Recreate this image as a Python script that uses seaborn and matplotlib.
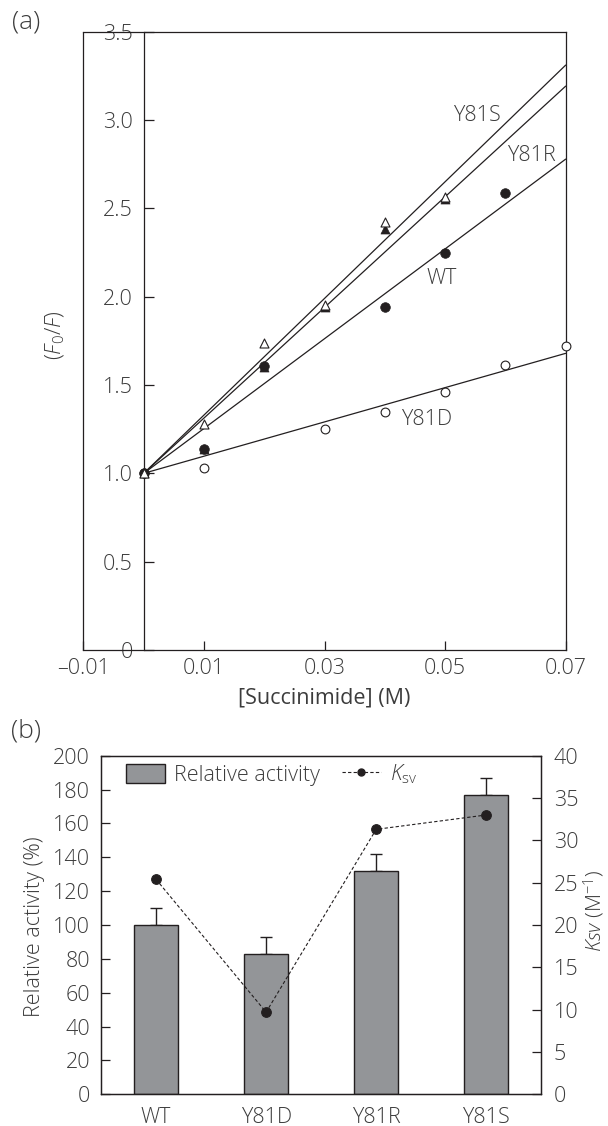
import numpy as np
import matplotlib.pyplot as plt
import seaborn as sns
from matplotlib.patches import Patch
from matplotlib.lines import Line2D

# ============================================================
# data
# ============================================================

# (a) Stern-Volmer plot
conc_wt = [0, 0.01, 0.02, 0.04, 0.05, 0.06]
f0f_wt = [1.0, 1.14, 1.61, 1.94, 2.245, 2.585]

conc_y81d = [0, 0.01, 0.03, 0.04, 0.05, 0.06, 0.07]
f0f_y81d = [1.0, 1.03, 1.25, 1.347, 1.46, 1.613, 1.722]

conc_y81r = [0, 0.01, 0.02, 0.03, 0.04, 0.05]
f0f_y81r = [1.0, 1.14, 1.60, 1.94, 2.38, 2.55]

conc_y81s = [0, 0.01, 0.02, 0.03, 0.04, 0.05]
f0f_y81s = [1.0, 1.28, 1.736, 1.955, 2.424, 2.565]

# (b) activity / Ksv
mutants = ["WT", "Y81D", "Y81R", "Y81S"]
rel_activity = [100, 83, 132, 177]
rel_activity_err = [10, 10, 10, 10]
ksv = [25.4, 9.7, 31.3, 33.0]

x_ticklabels_a = ["\u20130.01", "0.01", "0.03", "0.05", "0.07"]
y_ticklabels_a = ["0", "0.5", "1.0", "1.5", "2.0", "2.5", "3.0", "3.5"]

# ============================================================
# style
# ============================================================

sns.set_style("ticks")
plt.rcParams["font.family"] = ["Open Sans", "DejaVu Sans"]
plt.rcParams["font.weight"] = "light"
plt.rcParams["mathtext.fontset"] = "custom"
plt.rcParams["mathtext.rm"] = "Open Sans:light"
plt.rcParams["mathtext.it"] = "Open Sans:italic:light"
plt.rcParams["mathtext.bf"] = "Open Sans:bold"

INK = "#231f20"
TXT = "#3c3c3c"
BAR = "#939598"
FS = 15.5

fig = plt.figure(figsize=(6.08, 11.26), dpi=100)

# ============================================================
# (a)
# ============================================================

ax1 = fig.add_axes([0.1373, 0.4227, 0.7931, 0.5493])

# fitted lines  F0/F = 1 + Ksv [Q]
x_fit = np.array([0, 0.07])
for k in ksv:
    sns.lineplot(x=x_fit, y=1 + k * x_fit, ax=ax1, color=INK, lw=0.9)

sns.scatterplot(x=conc_y81d, y=f0f_y81d, ax=ax1, marker="o", s=40,
                facecolor="white", edgecolor=INK, linewidth=0.8, zorder=3,
                clip_on=False)
sns.scatterplot(x=conc_wt, y=f0f_wt, ax=ax1, marker="o", s=48,
                color=INK, edgecolor=INK, linewidth=0.5, zorder=3)
sns.scatterplot(x=conc_y81r, y=f0f_y81r, ax=ax1, marker="^", s=42,
                color=INK, edgecolor=INK, linewidth=0.5, zorder=3)
sns.scatterplot(x=conc_y81s, y=f0f_y81s, ax=ax1, marker="^", s=42,
                facecolor="white", edgecolor=INK, linewidth=0.8, zorder=4)

ax1.set_xlim(-0.01, 0.07)
ax1.set_ylim(0, 3.5)

ax1.set_xticks([-0.01, 0.01, 0.03, 0.05, 0.07])
ax1.set_xticklabels(x_ticklabels_a)
ax1.set_yticks(np.arange(0, 3.51, 0.5))
ax1.set_yticklabels(y_ticklabels_a)

for sp in ax1.spines.values():
    sp.set_visible(True)
    sp.set_color(INK)
    sp.set_linewidth(0.9)
ax1.spines["left"].set_position(("data", 0))
ax1.axvline(-0.01, color=INK, lw=0.9, clip_on=False)

ax1.tick_params(axis="y", direction="in", length=7, width=0.9,
                pad=8, labelsize=FS, labelcolor=TXT, color=INK)
ax1.tick_params(axis="x", direction="in", length=6.5, width=0.9,
                pad=6, labelsize=FS, labelcolor=TXT, color=INK)

ax1.set_xlabel("[Succinimide] (M)", fontsize=FS, color=TXT, labelpad=6)
ax1.set_ylabel("")
fig.text(55 / 608, 1 - 335 / 1126, r"($\mathit{F}_0$/$\mathit{F}$)",
         rotation=90, ha="center", va="center", fontsize=FS, color=TXT)

ax1.text(0.0552, 3.022, "Y81S", ha="center", va="center", fontsize=FS, color=TXT)
ax1.text(0.0643, 2.801, "Y81R", ha="center", va="center", fontsize=FS, color=TXT)
ax1.text(0.0494, 2.105, "WT", ha="center", va="center", fontsize=FS, color=TXT)
ax1.text(0.0469, 1.307, "Y81D", ha="center", va="center", fontsize=FS, color=TXT)

fig.text(26 / 608, 1 - 22 / 1126, "(a)", ha="center", va="center",
         fontsize=19, color=TXT)

# ============================================================
# (b)
# ============================================================

ax2 = fig.add_axes([0.1661, 0.02815, 0.7242, 0.3007])

sns.barplot(x=mutants, y=rel_activity, ax=ax2, color=BAR, saturation=1,
            edgecolor=INK, linewidth=1, width=0.4, zorder=2)
ax2.errorbar(np.arange(len(mutants)), rel_activity,
             yerr=[np.zeros(len(mutants)), rel_activity_err],
             fmt="none", ecolor=INK, elinewidth=1, capsize=4, capthick=1,
             zorder=1)

ax2.set_xlim(-0.5, 3.5)
ax2.set_ylim(0, 200)
ax2.set_yticks(np.arange(0, 201, 20))
ax2.set_xlabel("")
ax2.set_ylabel("")

ax3 = ax2.twinx()
sns.lineplot(x=np.arange(len(mutants)), y=ksv, ax=ax3, color=INK,
             lw=0.8, linestyle=(0, (3, 2)), marker="o", markersize=7,
             markeredgecolor=INK, zorder=5)
ax3.set_ylim(0, 40)
ax3.set_yticks(np.arange(0, 41, 5))
ax3.set_ylabel("")

for a in (ax2, ax3):
    for sp in a.spines.values():
        sp.set_visible(True)
        sp.set_color(INK)
        sp.set_linewidth(0.9)

ax2.tick_params(axis="y", direction="in", length=6.5, width=0.9,
                pad=8, labelsize=FS, labelcolor=TXT, color=INK)
ax2.tick_params(axis="x", length=0, pad=9, labelsize=FS, labelcolor=TXT)
ax3.tick_params(axis="y", direction="in", length=6.5, width=0.9,
                pad=9, labelsize=FS, labelcolor=TXT, color=INK)

fig.text(35 / 608, 1 - 927 / 1126, "Relative activity (%)", rotation=90,
         ha="center", va="center", fontsize=FS, color=TXT)
fig.text(594 / 608, 1 - 911 / 1126, r"$\mathit{Ksv}$ (M$^{-1}$)",
         rotation=90, ha="center", va="center", fontsize=FS - 0.5, color=TXT)

handles = [
    Patch(facecolor=BAR, edgecolor=INK, linewidth=1, label="Relative activity"),
    Line2D([], [], color=INK, lw=0.8, linestyle=(0, (3, 2)), marker="o",
           markersize=5, label=r"$\mathit{K}_{\mathrm{sv}}$"),
]
leg = ax3.legend(handles=handles, ncol=2, frameon=False, loc="upper left",
                 bbox_to_anchor=(25 / 440, 1 - 7 / 338.6), borderpad=0,
                 borderaxespad=0, handlelength=1.8, handleheight=1.0,
                 handletextpad=0.45, columnspacing=1.0, fontsize=FS)
for t in leg.get_texts():
    t.set_color(TXT)

fig.text(26 / 608, 1 - 731 / 1126, "(b)", ha="center", va="center",
         fontsize=19, color=TXT)

fig.savefig("out.png", dpi=100)
